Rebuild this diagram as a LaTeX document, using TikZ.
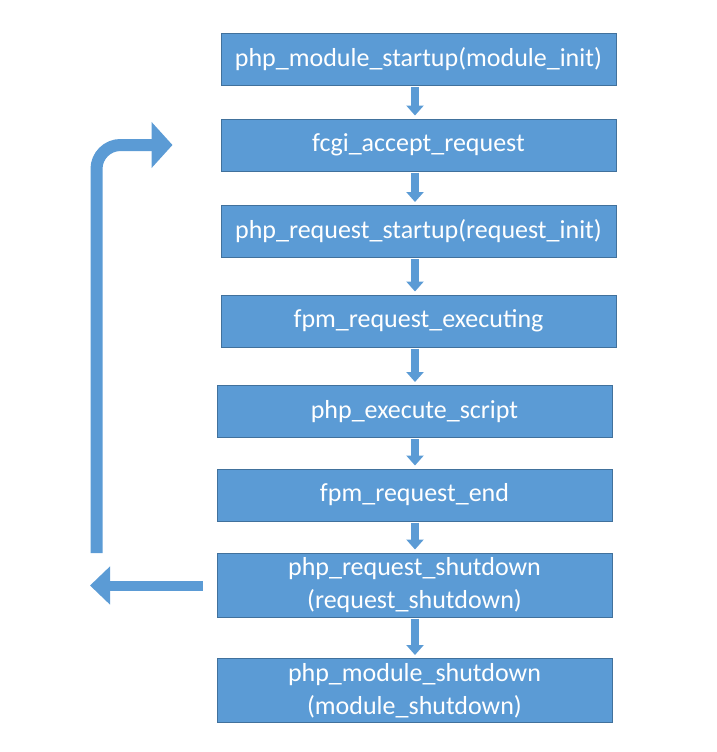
\documentclass[tikz,border=0pt]{standalone}
\usepackage{fontspec}
\setmainfont{Carlito}
\usepackage{tikz}
\usetikzlibrary{arrows.meta,calc}
\definecolor{boxblue}{HTML}{5B9BD5}
\definecolor{boxedge}{HTML}{41719C}

\begin{document}
\begin{tikzpicture}[x=1pt,y=-1pt,
    fnbox/.style={draw=boxedge, line width=1pt, fill=boxblue, text=white, minimum width=395pt, minimum height=52pt, inner sep=0pt, align=center, font=\fontsize{26}{33}\selectfont},
    tallbox/.style={fnbox, minimum height=64pt},
    down/.style={draw=boxblue, line width=8pt, -{Triangle[length=10pt,width=17pt]}},
    back/.style={draw=boxblue, line width=10pt, -{Triangle[length=20pt,width=37pt]}},
    loop/.style={draw=boxblue, line width=12pt, rounded corners=24pt, -{Triangle[length=21pt,width=45pt]}}]
    \useasboundingbox (0,0) rectangle (716,752);
    \node[fnbox] (b1) at (418.5,59.5) {php\_module\_startup(module\_init)};
    \node[fnbox] (b2) at (418.5,145) {fcgi\_accept\_request};
    \node[fnbox] (b3) at (418.5,231.5) {php\_request\_startup(request\_init)};
    \node[fnbox] (b4) at (418.5,321) {fpm\_request\_executing};
    \node[fnbox] (b5) at (414.5,411.5) {php\_execute\_script};
    \node[fnbox] (b6) at (414.5,495) {fpm\_request\_end};
    \node[tallbox] (b7) at (414.5,585) {php\_request\_shutdown\\(request\_shutdown)};
    \node[tallbox] (b8) at (414.5,690.5) {php\_module\_shutdown\\(module\_shutdown)};
    \coordinate (axis) at (415,0);
    \foreach \a/\b in {b1/b2,b2/b3,b3/b4,b4/b5,b5/b6,b6/b7,b7/b8}
        \draw[down] ([yshift=-1pt]\a.south -| axis) -- ([yshift=3pt]\b.north -| axis);
    % way back to the next request
    \coordinate (loopbot) at (96.5,553);
    \coordinate (loopend) at (90,585.5);
    \draw[back] ([xshift=-14pt]b7.west |- loopend) -- (loopend);
    \draw[loop] (loopbot) -- (loopbot |- b2.center) -- ([xshift=-48pt]b2.west);
\end{tikzpicture}
\end{document}
